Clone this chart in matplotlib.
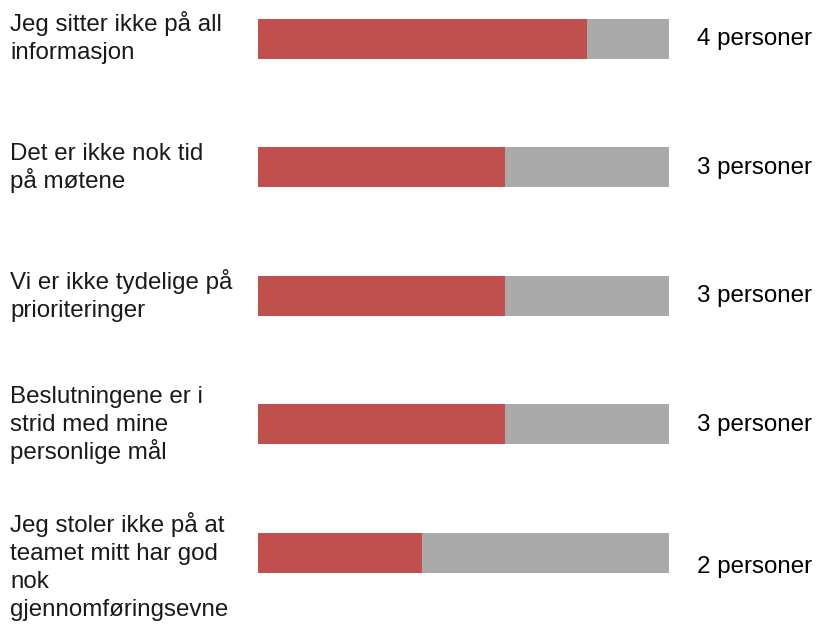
import matplotlib
matplotlib.use("Agg")
import matplotlib.pyplot as plt

labels = [
    ["Jeg sitter ikke på all", "informasjon"],
    ["Det er ikke nok tid", "på møtene"],
    ["Vi er ikke tydelige på", "prioriteringer"],
    ["Beslutningene er i", "strid med mine", "personlige mål"],
    ["Jeg stoler ikke på at", "teamet mitt har god", "nok", "gjennomføringsevne"],
]
counts = [4, 3, 3, 3, 2]
total = 5
value_labels = ["4 personer", "3 personer", "3 personer", "3 personer", "2 personer"]

W, H = 817, 626
fig = plt.figure(figsize=(W / 100, H / 100), dpi=100)
ax = fig.add_axes([258 / W, 0, 411 / W, 1])
ax.set_xlim(0, total)
ax.set_ylim(H, 0)
ax.axis("off")

red = "#C0504D"
gray = "#AAAAAA"
font = "Liberation Sans"
fs = 17.4
pitch = 28

for i, (lines, c, vl) in enumerate(zip(labels, counts, value_labels)):
    yc = 38.5 + i * 128.6
    ax.barh(yc, total, height=40, color=gray, left=0)
    ax.barh(yc, c, height=40, color=red, left=0)
    n = len(lines)
    ty = yc + max(0, n - 3) * 14
    for k, line in enumerate(lines):
        by = ty + (k - (n - 1) / 2) * pitch + 7
        fig.text(10 / W, 1 - by / H, line, ha="left", va="baseline", fontsize=fs,
                 family=font, color="#1a1a1a")
    fig.text(697 / W, 1 - (ty + 6.5) / H, vl, ha="left", va="baseline", fontsize=fs,
             family=font, color="black")

fig.savefig("out.png", dpi=100)
